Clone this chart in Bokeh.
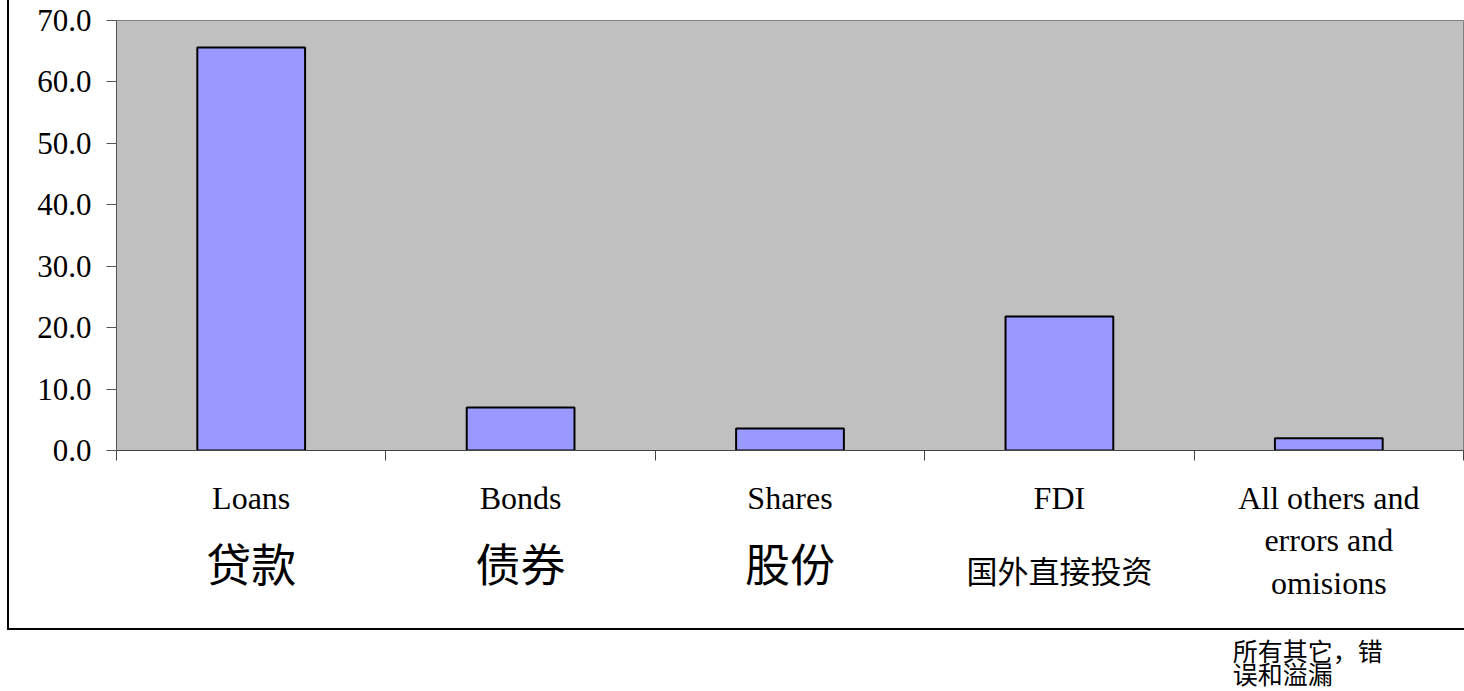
import numpy as np
from bokeh.plotting import figure
from bokeh.models import Range1d, FixedTicker, NumeralTickFormatter, ColumnDataSource
from bokeh.layouts import column
from bokeh.core.properties import value
from bokeh.embed import file_html
from bokeh.resources import INLINE

# ---- data ----
categories_en = ["Loans", "Bonds", "Shares", "FDI", "All others and\nerrors and\nomisions"]
categories_zh = ["贷款", "债券", "股份", "国外直接投资", "所有其它，错\n误和溢漏"]
values = [65.6, 7.0, 3.6, 21.8, 2.0]
y_ticks = [0, 10, 20, 30, 40, 50, 60, 70]

SERIF = "Liberation Serif"
CJK = "Noto Sans CJK SC"

n = len(values)
xc = np.arange(n) + 0.5
xr = Range1d(0, n)

# ---------------- main chart ----------------
p = figure(width=1455, height=470, output_backend="svg", toolbar_location=None,
           x_range=xr, y_range=Range1d(0, 70),
           min_border_left=107, min_border_right=1, min_border_top=20,
           min_border_bottom=20)
p.background_fill_color = "#C0C0C0"
p.border_fill_color = "white"
p.outline_line_color = "#808080"
p.outline_line_width = 1
p.grid.visible = False

src = ColumnDataSource(dict(x=xc, top=values))
p.vbar(x="x", top="top", width=0.4, bottom=0, source=src,
       fill_color="#9999FF", line_color="black", line_width=2)

ya = p.yaxis[0]
ya.ticker = FixedTicker(ticks=y_ticks)
ya.formatter = NumeralTickFormatter(format="0.0")
ya.major_label_text_font = SERIF
ya.major_label_text_font_size = "31px"
ya.major_label_text_color = "black"
ya.major_label_standoff = 15
ya.major_tick_out = 10
ya.major_tick_in = 0
ya.minor_tick_out = 0
ya.minor_tick_in = 0
ya.axis_line_color = "#555555"
ya.major_tick_line_color = "#555555"

xa = p.xaxis[0]
xa.ticker = FixedTicker(ticks=list(range(n + 1)))
xa.major_label_text_font_size = "0px"
xa.major_label_text_color = None
xa.major_tick_out = 10
xa.major_tick_in = 0
xa.minor_tick_out = 0
xa.minor_tick_in = 0
xa.axis_line_color = "#444444"
xa.major_tick_line_color = "#444444"

# ---------------- category label strip (inside chart border) ----------------
b = figure(width=1455, height=158, output_backend="svg", toolbar_location=None,
           x_range=xr, y_range=Range1d(158, 0),
           min_border_left=107, min_border_right=1, min_border_top=0,
           min_border_bottom=0, x_axis_location=None, y_axis_location=None)
b.outline_line_color = None
b.grid.visible = False
b.background_fill_color = None
b.border_fill_color = None

en_x, en_y, en_t = [], [], []
for i in range(n):
    for j, t in enumerate(categories_en[i].split("\n")):
        en_x.append(xc[i]); en_y.append(27 + 42.5 * j); en_t.append(t)
b.text(x=en_x, y=en_y, text=en_t, text_font=value(SERIF), text_font_size="32px",
       text_align="center", text_baseline="middle", text_color="black")

big = [i for i in range(n - 1) if len(categories_zh[i]) <= 2]
small = [i for i in range(n - 1) if len(categories_zh[i]) > 2]
b.text(x=[xc[i] for i in big], y=[92] * len(big), text=[categories_zh[i] for i in big],
       text_font=value(CJK), text_font_size="45px",
       text_align="center", text_baseline="middle", text_color="black")
b.text(x=[xc[i] for i in small], y=[99] * len(small), text=[categories_zh[i] for i in small],
       text_font=value(CJK), text_font_size="31px",
       text_align="center", text_baseline="middle", text_color="black")

# ---------------- overflow text below the chart border ----------------
c = figure(width=1464, height=61, output_backend="svg", toolbar_location=None,
           x_range=xr, y_range=Range1d(61, 0),
           min_border_left=116, min_border_right=1, min_border_top=0,
           min_border_bottom=0, x_axis_location=None, y_axis_location=None)
c.outline_line_color = None
c.grid.visible = False
c.background_fill_color = None
c.border_fill_color = None
last = categories_zh[-1].split("\n")
c.text(x=[xc[-1]] * len(last), y=[19 + 23.5 * j for j in range(len(last))], text=last,
       x_offset=-96, text_font=value(CJK), text_font_size="25px",
       text_align="left", text_baseline="middle", text_color="black")

inner = column(p, b, styles={"border-left": "2px solid black",
                             "border-bottom": "2px solid black",
                             "margin-left": "7px"})
layout = column(inner, c)

open("out.html", "w").write(file_html(layout, INLINE))
